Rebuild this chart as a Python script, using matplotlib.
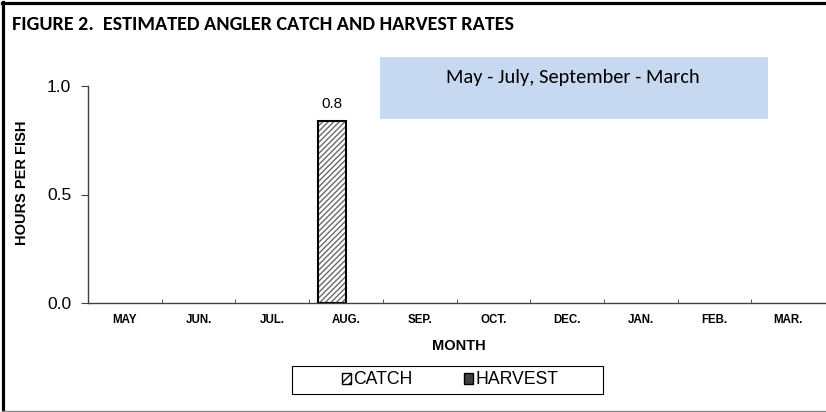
import numpy as np
import matplotlib.pyplot as plt
from matplotlib.lines import Line2D
from matplotlib.patches import Rectangle

months = ['MAY', 'JUN.', 'JUL.', 'AUG.', 'SEP.', 'OCT.', 'DEC.', 'JAN.', 'FEB.', 'MAR.']
catch = [0, 0, 0, 0.84, 0, 0, 0, 0, 0, 0]
harvest = [0, 0, 0, 0, 0, 0, 0, 0, 0, 0]
y_ticks = [0.0, 0.5, 1.0]
note = 'May - July, September - March'

W, H = 826, 412
fig = plt.figure(figsize=(W / 100, H / 100), dpi=100)
fig.patch.set_facecolor('white')

# outer frame of the figure
fig.add_artist(Line2D([3.2 / W, 3.2 / W], [1 / H, 1 - 2 / H], color='black', lw=2.3))
fig.add_artist(Line2D([2 / W, 1.0], [1 - 3.3 / H, 1 - 3.3 / H], color='black', lw=2.3))
fig.add_artist(Line2D([2 / W, 1.0], [1.2 / H, 1.2 / H], color='#888888', lw=1.0))

title_font = ['Carlito', 'Lato']
fig.text(12 / W, 1 - 25 / H, 'FIGURE 2.  ESTIMATED ANGLER CATCH AND HARVEST RATES',
         fontsize=14.5, fontweight='bold', family=title_font, va='center', ha='left')

ax = fig.add_axes([88 / W, (H - 303) / H, 737 / W, 217 / H])
x = np.arange(len(months))
w = 0.38

# hatch drawn in gray, outline drawn on top in black
hatch_bars = ax.bar(x - w / 2, catch, w, facecolor='white', edgecolor='#6a6a6a', lw=0,
                    hatch='//////')
catch_bars = ax.bar(x - w / 2, catch, w, facecolor='none', edgecolor='black', lw=1.5)
harvest_bars = ax.bar(x + w / 2, harvest, w, facecolor='#404040', edgecolor='black', lw=1.0)
for group in (hatch_bars, catch_bars, harvest_bars):
    for bar in group:
        if bar.get_height() == 0:
            bar.set_visible(False)

for xi, v in zip(x, catch):
    if v > 0:
        ax.text(xi - w / 2, v + 0.045, '%.1f' % v, ha='center', va='bottom',
                fontsize=11, family='Liberation Sans')

ax.set_xlim(-0.5, len(months) - 0.5)
ax.set_ylim(0, 1.0)
ax.set_yticks(y_ticks)
ax.set_yticklabels(['%.1f' % t for t in y_ticks], fontsize=12.5, family='Liberation Sans')
ax.set_xticks(x)
ax.set_xticklabels(months, fontsize=8.3, fontweight='bold', family='Liberation Sans')
ax.set_xticks(x[:-1] + 0.5, minor=True)
ax.tick_params(axis='x', which='major', length=0, pad=8)
ax.tick_params(axis='x', which='minor', direction='in', length=3, color='#404040')
ax.tick_params(axis='y', direction='out', length=5, color='#404040', pad=7)
for s in ['top', 'right']:
    ax.spines[s].set_visible(False)
for s in ['left', 'bottom']:
    ax.spines[s].set_color('#404040')
    ax.spines[s].set_linewidth(1.0)

ax.set_xlabel('MONTH', fontsize=10.5, fontweight='bold', family='Liberation Sans', va='center')
ax.xaxis.set_label_coords((459 - 88) / 737, (303 - 346) / 217)
ax.set_ylabel('HOURS PER FISH', fontsize=10.5, fontweight='bold', family='Liberation Sans',
              va='center')
ax.yaxis.set_label_coords((22 - 88) / 737, (303 - 183) / 217)

# note box over the plot
fig.add_artist(Rectangle((380 / W, 1 - 119 / H), 388 / W, 62 / H,
                         facecolor='#C6D9F1', edgecolor='none'))
fig.text(573 / W, 1 - 78 / H, note, fontsize=14.7, family=title_font, ha='center', va='center')

# legend with a separate frame
fig.add_artist(Rectangle((292 / W, 1 - 394 / H), 311 / W, 28 / H,
                         facecolor='white', edgecolor='black', lw=0.8))
catch_key = Rectangle((0, 0), 1, 1, facecolor='white', edgecolor='black', lw=1.0, hatch='////')
harvest_key = Rectangle((0, 0), 1, 1, facecolor='#404040', edgecolor='black', lw=1.0)
fig.legend(handles=[catch_key, harvest_key], labels=['CATCH', 'HARVEST'],
           loc='center', bbox_to_anchor=(450 / W, 1 - 380 / H),
           ncol=2, frameon=False, prop={'family': 'Liberation Sans', 'size': 12.7},
           handlelength=0.55, handleheight=0.55, handletextpad=0.1,
           columnspacing=2.9, borderpad=0.1)

fig.savefig('out.png', dpi=100)
